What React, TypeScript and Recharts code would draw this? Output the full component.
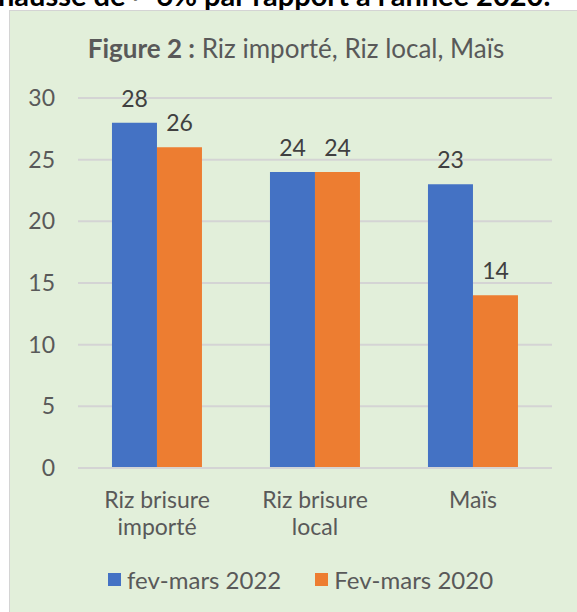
import React from 'react';
import { BarChart, Bar, XAxis, YAxis, CartesianGrid, Legend, LabelList } from 'recharts';

const categories = ['Riz brisure|importé', 'Riz brisure|local', 'Maïs'];
const fev2022 = [28, 24, 23];
const fev2020 = [26, 24, 14];
const yTicks = [0, 5, 10, 15, 20, 25, 30];
const seriesNames = ['fev-mars 2022', 'Fev-mars 2020'];
const seriesColors = ['#4472C4', '#ED7D31'];

const data = categories.map((c, i) => ({ name: c, a: fev2022[i], b: fev2020[i] }));

const TEXT = '#595959';
const FONT = 'Lato, "Noto Sans", sans-serif';

const XTick = (props: any) => {
  const { x, y, payload } = props;
  const lines = String(payload.value).split('|');
  return (
    <text x={x} y={y} textAnchor="middle" fill={TEXT} fontSize={23} fontFamily={FONT}>
      {lines.map((l, i) => (
        <tspan key={i} x={x} dy={i === 0 ? 32 : 27}>{l}</tspan>
      ))}
    </text>
  );
};

const LegendContent = () => {
  return (
    <div style={{ display: 'flex', alignItems: 'center', fontFamily: FONT, fontSize: 24, color: TEXT, whiteSpace: 'nowrap' }}>
      {seriesNames.map((n, i) => (
        <div key={i} style={{ display: 'flex', alignItems: 'center', marginRight: i === 0 ? 34 : 0 }}>
          <span style={{ width: 13, height: 13, background: seriesColors[i], display: 'inline-block', marginRight: 6 }} />
          <span>{n}</span>
        </div>
      ))}
    </div>
  );
};

export default function App() {
  return (
    <div style={{ position: 'fixed', left: 0, top: 0, width: 577, height: 612, background: '#fff', overflow: 'hidden' }}>
      <div style={{ position: 'absolute', left: -2, top: -23, whiteSpace: 'nowrap', fontFamily: FONT, fontWeight: 700, fontSize: 29, color: '#000' }}>
        hausse de ~ 6% par rapport à l'année 2020.
      </div>
      <div style={{ position: 'absolute', left: 9, top: 10, width: 640, height: 640, background: '#E2EFDA', border: '1.5px solid #D4D4D4' }} />
      <div style={{ position: 'absolute', left: 0, top: 32, width: 592, textAlign: 'center', fontFamily: FONT, fontSize: 26, color: TEXT, whiteSpace: 'nowrap' }}>
        <b>Figure 2 :</b> Riz importé, Riz local, Maïs
      </div>
      <div style={{ position: 'absolute', left: 0, top: 0 }}>
        <BarChart width={577} height={612} data={data} margin={{ top: 98, right: 25, left: 0, bottom: 24 }} barCategoryGap="21.5%" barGap={0}>
          <CartesianGrid vertical={false} stroke="#D4D4D4" strokeWidth={2} />
          <XAxis dataKey="name" axisLine={{ stroke: '#D4D4D4', strokeWidth: 2 }} tickLine={false} height={90} tick={<XTick />} interval={0} />
          <YAxis width={78} domain={[0, 30]} ticks={yTicks} axisLine={false} tickLine={false} tickSize={0} tickMargin={23}
            tick={{ fill: TEXT, fontSize: 23, fontFamily: FONT }} />
          <Legend verticalAlign="bottom" height={30} content={<LegendContent />}
            wrapperStyle={{ left: 108, top: 565, width: 420 }} />
          <Bar dataKey="a" name={seriesNames[0]} fill={seriesColors[0]} isAnimationActive={false}>
            <LabelList dataKey="a" position="top" offset={16} fill="#404040" fontSize={23} fontFamily={FONT} />
          </Bar>
          <Bar dataKey="b" name={seriesNames[1]} fill={seriesColors[1]} isAnimationActive={false}>
            <LabelList dataKey="b" position="top" offset={16} fill="#404040" fontSize={23} fontFamily={FONT} />
          </Bar>
        </BarChart>
      </div>
    </div>
  );
}
